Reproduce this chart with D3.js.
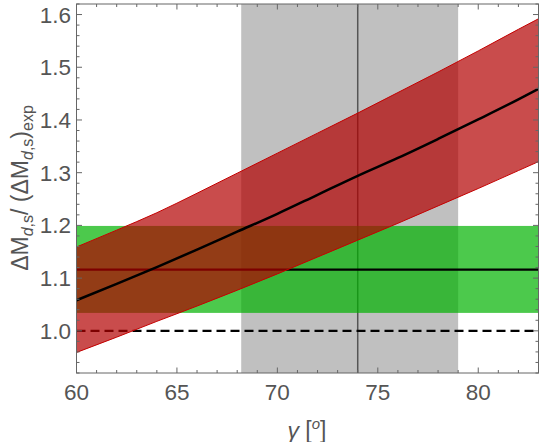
<!DOCTYPE html>
<html lang="en">
<head>
<meta charset="utf-8">
<title>Delta M ratio vs gamma</title>
<script src="https://cdn.jsdelivr.net/npm/d3@7"></script>
<style>
  body { margin: 0; background: #fff; }
  svg text { font-family: "Liberation Sans", Arial, sans-serif; fill: #555; }
</style>
</head>
<body>
<svg id="chart" width="540" height="442"></svg>
<script>
// gamma in degrees and the ratio band
var gammaVals    = [60, 62, 64, 66, 68, 70, 72, 74, 76, 78, 80, 82, 83];
var ratioCentral = [1.058, 1.089, 1.121, 1.154, 1.188, 1.222, 1.258, 1.294, 1.328, 1.364, 1.401, 1.439, 1.459];
var ratioUpper   = [1.159, 1.191, 1.224, 1.261, 1.299, 1.337, 1.375, 1.413, 1.452, 1.491, 1.531, 1.572, 1.592];
var ratioLower   = [0.959, 0.988, 1.018, 1.047, 1.077, 1.108, 1.140, 1.172, 1.204, 1.237, 1.270, 1.304, 1.321];

// experimental gamma range and the horizontal (SM) band
var gammaRange   = [68.2, 79.0];
var gammaCentral = 74.0;
var smBand       = [1.034, 1.199];
var smCentral    = 1.116;
var refLine      = 1.0;

var xTicks = [60, 65, 70, 75, 80];
var yTicks = [1.0, 1.1, 1.2, 1.3, 1.4, 1.5, 1.6];

var svg = d3.select("#chart");
var m = {left: 76.5, right: 538.5, top: 4, bottom: 373};

var x = d3.scaleLinear().domain([60, 83]).range([m.left, m.right]);
var y = d3.scaleLinear().domain([0.92, 1.62]).range([m.bottom, m.top]);

svg.append("clipPath").attr("id", "clip")
  .append("rect")
  .attr("x", m.left).attr("y", m.top)
  .attr("width", m.right - m.left).attr("height", m.bottom - m.top);

var g = svg.append("g").attr("clip-path", "url(#clip)");

// gray gamma band
g.append("rect")
  .attr("x", x(gammaRange[0])).attr("y", m.top)
  .attr("width", x(gammaRange[1]) - x(gammaRange[0]))
  .attr("height", m.bottom - m.top)
  .attr("fill", "#c0c0c0");

g.append("line")
  .attr("x1", x(gammaCentral)).attr("x2", x(gammaCentral))
  .attr("y1", m.top).attr("y2", m.bottom)
  .attr("stroke", "#555").attr("stroke-width", 1.5);

// green band
g.append("rect")
  .attr("x", m.left).attr("y", y(smBand[1]))
  .attr("width", m.right - m.left)
  .attr("height", y(smBand[0]) - y(smBand[1]))
  .attr("fill", "rgb(0,178,0)").attr("fill-opacity", 0.7);

g.append("line")
  .attr("x1", m.left).attr("x2", m.right)
  .attr("y1", y(smCentral)).attr("y2", y(smCentral))
  .attr("stroke", "#000").attr("stroke-width", 2.2);

g.append("line")
  .attr("x1", m.left).attr("x2", m.right)
  .attr("y1", y(refLine)).attr("y2", y(refLine))
  .attr("stroke", "#000").attr("stroke-width", 2.2)
  .attr("stroke-dasharray", "9,5");

// red band
var pts = gammaVals.map(function(d, i) {
  return {g: d, c: ratioCentral[i], hi: ratioUpper[i], lo: ratioLower[i]};
});

var area = d3.area()
  .x(function(d) { return x(d.g); })
  .y0(function(d) { return y(d.lo); })
  .y1(function(d) { return y(d.hi); })
  .curve(d3.curveMonotoneX);

g.append("path").datum(pts)
  .attr("d", area)
  .attr("fill", "rgb(178,0,0)").attr("fill-opacity", 0.7);

function edge(key) {
  return d3.line()
    .x(function(d) { return x(d.g); })
    .y(function(d) { return y(d[key]); })
    .curve(d3.curveMonotoneX);
}

["hi", "lo"].forEach(function(k) {
  g.append("path").datum(pts)
    .attr("d", edge(k))
    .attr("fill", "none").attr("stroke", "#c40000").attr("stroke-width", 1);
});

g.append("path").datum(pts)
  .attr("d", edge("c"))
  .attr("fill", "none").attr("stroke", "#000").attr("stroke-width", 2.5);

// frame + ticks (inward, all four sides)
var frame = svg.append("g");
frame.append("rect")
  .attr("x", m.left).attr("y", m.top)
  .attr("width", m.right - m.left).attr("height", m.bottom - m.top)
  .attr("fill", "none").attr("stroke", "#666").attr("stroke-width", 1);

var xMinor = d3.range(60, 84, 1);
var yMinor = d3.range(0, 36).map(function(i) { return +(0.92 + i * 0.02).toFixed(2); });

xMinor.forEach(function(v) {
  var len = xTicks.indexOf(v) >= 0 ? 5.5 : 3;
  frame.append("line").attr("x1", x(v)).attr("x2", x(v))
    .attr("y1", m.bottom).attr("y2", m.bottom - len)
    .attr("stroke", "#666");
  frame.append("line").attr("x1", x(v)).attr("x2", x(v))
    .attr("y1", m.top).attr("y2", m.top + len)
    .attr("stroke", "#666");
});

yMinor.forEach(function(v) {
  var major = yTicks.some(function(t) { return Math.abs(t - v) < 1e-6; });
  var len = major ? 5.5 : 3;
  frame.append("line").attr("x1", m.left).attr("x2", m.left + len)
    .attr("y1", y(v)).attr("y2", y(v)).attr("stroke", "#666");
  frame.append("line").attr("x1", m.right).attr("x2", m.right - len)
    .attr("y1", y(v)).attr("y2", y(v)).attr("stroke", "#666");
});

svg.append("g").selectAll("text").data(xTicks).enter().append("text")
  .attr("x", function(d) { return x(d); })
  .attr("y", 400)
  .attr("text-anchor", "middle")
  .attr("font-size", 22.5)
  .text(function(d) { return d; });

svg.append("g").selectAll("text").data(yTicks).enter().append("text")
  .attr("x", 71)
  .attr("y", function(d) { return y(d) + 8; })
  .attr("text-anchor", "end")
  .attr("font-size", 22.5)
  .text(function(d) { return d.toFixed(1); });

// axis labels
var xl = svg.append("text")
  .attr("x", 307).attr("y", 438)
  .attr("text-anchor", "middle")
  .attr("font-size", 23);
xl.append("tspan").attr("font-style", "italic").text("γ");
xl.append("tspan").text(" [");
xl.append("tspan").attr("font-style", "italic").attr("font-size", 15).attr("dy", -9).text("o");
xl.append("tspan").attr("dy", 9).text("]");

var yl = svg.append("text")
  .attr("transform", "translate(28,188) rotate(-90)")
  .attr("text-anchor", "middle")
  .attr("font-size", 23);
yl.append("tspan").text("ΔM");
yl.append("tspan").attr("font-size", 16).attr("dy", 5).attr("font-style", "italic").text("d");
yl.append("tspan").attr("font-size", 16).text(",s");
yl.append("tspan").attr("dy", -5).text("/ (ΔM");
yl.append("tspan").attr("font-size", 16).attr("dy", 5).attr("font-style", "italic").text("d");
yl.append("tspan").attr("font-size", 16).text(",s");
yl.append("tspan").attr("dy", -5).text(")");
yl.append("tspan").attr("font-size", 16).attr("dy", 5).text("exp");
</script>
</body>
</html>
